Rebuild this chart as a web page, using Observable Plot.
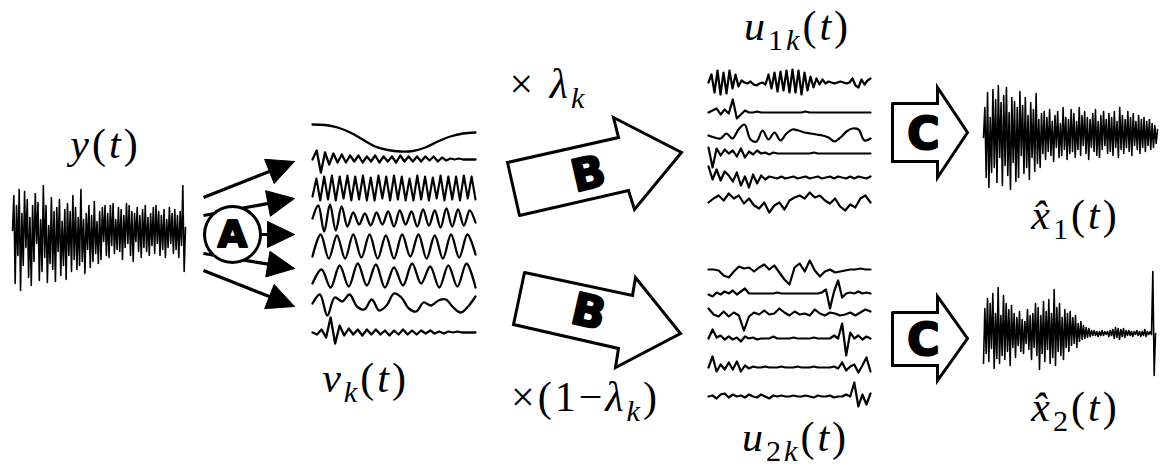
<!DOCTYPE html>
<html>
<head>
<meta charset="utf-8">
<script src="https://cdn.jsdelivr.net/npm/d3@7"></script>
<script src="https://cdn.jsdelivr.net/npm/@observablehq/plot@0.6"></script>
<style>
  html, body { margin: 0; padding: 0; background: #fff; }
  svg { display: block; }
</style>
</head>
<body>
<script>
// ---------------- DATA ----------------
// mixture y(t)
const yt = [
 5, 40, -48, 30, -20, 46, -55, 22, -30, 44, -12, 36, -42, 18, -50, 30, -26, 42, -8, 33,
 -45, 16, -36, 50, -22, 30, -47, 10, -28, 38, -34, 24, -46, 28, -16, 36, -40, 14, -30, 26,
 -44, 32, -20, 24, -36, 40, -24, 28, -34, 18, -30, 46, -26, 16, -38, 22, -14, 30, -32, 20,
 -26, 34, -18, 14, -28, 24, -24, 28, -6, 30, -20, 22, -22, 30, -10, 32, -18, 16, -14, 28,
 -16, 26, -24, 20, -12, 32, -8, 30, -20, 24, -26, 22, -6, 28, -16, 20, -22, 26, -12, 30,
 -16, 18, -20, 22, -10, 28, -18, 30, -8, 24, -20, 20, -14, 26, -22, 16, -12, 28, -8, 22,
 -18, 26, -14, 20, -22, 24, -10, 50, -36, 8
];
// modes v_k(t)
const v1 = [12, 11.5, 9, 4, -3, -10, -13.5, -15, -14.5, -11, -5, 0, 3, 4];
const v2 = [0, 9, -13, 7, -5, 6, -3, 5, -3, 4, -2, 4, -3, 3, -2, 4, -3, 3, -2, 3, -3, 4, -2, 3, -2, 3, -2, 3, -1, 3, -2, 2, -1, 1, 0, 1, 0, 0, 0, 0];
const v3 = [-8, 10, -12, 12, -11, 13, -12, 12, -10, 13, -12, 12, -11, 13, -12, 11, -12, 13, -10, 12, -12, 13, -11, 12, -12, 10, -12, 13, -11, 12, -12, 11, -10, 13, -12, 12, -11, 12, -12, 13, -10, 12, -11];
const v4 = [0, 13, -13, 14, -12, 12, -8, 6, -6, 5, -7, 6, -6, 7, -8, 8, -6, 7, -8, 9, -7, 8, -9, 10, -8, 9, -7, 8, -4];
const v5 = [-10, 12, -12, 11, -12, 12, -11, 12, -12, 11, -12, 12, -10, 12, -12, 11, -12, 12, -11, 12, -8];
const v6 = [-8, 6, -12, 10, -11, 12, -10, 11, -12, 8, -10, 12, -8, 9, -12, 10, -11, 12, -12];
const v7 = [0, 9, -12, 6, 2, 9, -3, -6, 4, -7, -2, 10, 6, -5, -8, 1, -2, 3, 4, -4, -9, -3, 7];
const v8 = [0, -2, 3, -5, 15, -11, 7, -3, 4, -2, 3, -3, 3, -2, 3, -2, 2, -3, 2, -2, 3, -2, 2, -2, 2, -1, 2, -1, 1, -1, 1, 0, 1, 0, 0, 0, 0];
// weighted modes u_1k(t)
const a1 = [0, 8, -10, 12, -12, 10, -11, 12, -6, 8, -4, 2, 0, -1, 1, -2, -3, -1, 0, -2, 8, -6, 10, -9, 11, -8, 12, -10, 13, -10, 12, -12, 10, -8, 6, -5, 4, -2, 3, -1, 1, 0, -1, 0, 1, 0, -1, 0, 4, -3, -5, 3, -2, 2, 4];
const a2 = [0, 2, 4, -2, 3, -1, 13, -6, -2, 2, 0, 0, 1, 0, 0, 0, 0, 0, 0, 0, 0, 0, 0, 0, 1, 0, 0, 0, 0, 0, 0, 0, 0, 0, 0, 0, 0, 0, 0, 0, 0];
const a3 = [0, -2, -3, 2, -3, 6, 11, -4, -6, 5, -4, 3, -5, 2, 6, 5, 3, 2, 1, 0, -2, -6, -2, 4, 7, 6, -5, -3];
const a4 = [6, -14, 5, -2, 4, 0, 3, -3, 5, -4, 2, -1, 3, 0, 1, -1, 1, 0, 0, 0, 0, 0, 0, 0, 0, 0, 1, 0, 0, 0, 0, 0, 0, 0, 0, 0, 0, 0, 0, 0, 0];
const a5 = [11, -2, 8, -3, 6, 2, -4, 5, -8, 1, -10, 3, -6, 2, -2, 1, 0, -1, 1, -1, 0, 1, -1, 0, 1, -1, 0, 1, -1, 0, 1, -1, 1, 0, -1, 1, -1, 1, 0, -1, 1];
const a6 = [-2, 2, 5, 0, 7, 2, 5, -3, 2, -5, -8, -2, -12, -5, -2, -9, 0, 3, 5, 2, 8, 3, 5, 0, -3, 2, -6, -10, -4, -7, 2, 5, -2];
// weighted modes u_2k(t)
const b1 = [0, 0, -1, -6, -8, -2, 3, 1, 2, -2, 2, 5, 0, 4, -3, -10, -15, 2, 6, -2, 9, -1, -7, -2, 0, -3, -2, -1, 0, 0, 1, 0, 0];
const b2 = [-1, -3, 1, -1, 2, 0, 3, -1, 2, 5, 0, 0, 0, 0, 0, 0, 0, 1, 0, 0, 0, 0, 0, 0, 0, 0, 0, 0, 1, 4, -15, 2, 13, -4, 0, 1, 0, 2, 0, 1, 0];
const b3 = [5, -1, -3, 2, -3, 1, -2, -17, -3, 1, -1, 3, -1, 0, 5, 1, -2, 2, -1, 0, -2, 4, 0, -2, 1, 0, -2, -1, 1, -2, 1, 4, 2];
const b4 = [0, 9, 1, 3, -1, 2, -1, 1, -3, 2, 0, 1, -1, 0, 0, 0, 2, 0, 0, 0, 0, 1, 0, 0, 0, 0, 1, 0, 0, 0, 0, 3, 0, 15, -17, 6, 0, 3, -1, 2, 0];
const b5 = [0, 11, -4, 3, -2, 5, -2, 6, -4, 2, -1, 1, 0, 0, 1, 0, 0, 0, 1, 0, 0, 0, 1, 0, 0, 0, 1, 0, 0, 0, 0, 1, -1, 5, -3, 1, 3, -5, 2, 10, -4];
const b6 = [0, 1, -2, 2, 3, -1, 2, 0, 1, -1, 2, 0, -1, 2, 0, -2, 1, 0, 1, 0, 0, 1, 0, 0, 1, 0, -1, 1, 0, 0, 1, -1, 0, 0, 2, 0, 14, -10, 2, -8, 3];
// estimated sources
const xh1 = [
 0, 30, -40, 45, -50, 20, -35, 48, -30, 38, -45, 52, -20, 35, -48, 42, -28, 50, -38, 25,
 -52, 40, -25, 36, -44, 30, -40, 46, -18, 32, -36, 40, -30, 22, -42, 35, -20, 28, -34, 44,
 -26, 18, -30, 24, -16, 26, -22, 20, -14, 28, -18, 16, -24, 22, -10, 26, -20, 14, -18, 30,
 -12, 20, -22, 18, -16, 28, -14, 24, -20, 16, -12, 30, -18, 22, -8, 26, -16, 20, -22, 18,
 -10, 24, -14, 28, -18, 16, -20, 22, -12, 26, -8, 18, -16, 24, -14, 20, -18, 26, -10, 16,
 -20, 30, -12, 22, -16, 18, -10, 26, -14, 20, -18, 24, -8, 16, -12, 22, -16, 18, -10, 20,
 -14, 16, -8, 18, -12, 14, -10, 12, -6, 8
];
const xh2 = [
 -30, 25, -20, 35, -28, 30, -15, 40, -35, 20, -25, 46, -30, 18, -22, 38, -26, 30, -18, 24,
 -32, 28, -14, 20, -24, 16, -12, 22, -18, 14, -20, 12, -10, 24, -16, 18, -26, 20, -14, 30,
 -22, 26, -36, 18, -20, 32, -28, 22, -16, 34, -30, 20, -24, 44, -32, 26, -18, 30, -22, 16,
 -26, 24, -14, 20, -18, 22, -12, 16, -10, 18, -14, 10, -8, 12, -6, 8, -5, 6, -4, 5,
 -3, 3, -2, 3, -2, 2, -3, 2, -2, 3, -2, 2, -1, 2, -3, 3, -2, 4, -5, 6,
 -4, 5, -6, 4, -3, 5, -4, 3, -2, 3, -2, 2, -3, 2, -1, 3, -2, 2, -3, 2,
 -2, 4, -3, 2, -1, 2, -1, 62, -42, 0
];
// labels
const mathLabels = ["*y*(*t*)", "*v*_{*k*}(*t*)", "× *λ*_{*k*}", "×(1−*λ*_{*k*})",
                    "*u*_{1*k*}(*t*)", "*u*_{2*k*}(*t*)", "*x\u0302*_{1}(*t*)", "*x\u0302*_{2}(*t*)"];
const stepLabels = ["A", "B", "B", "C", "C"];

// ---------------- LAYOUT (diagram placement, pixels) ----------------
const W = 1161, H = 466;
const waveLayout = [
  {v: yt,  x0: 12,  x1: 185, yc: 235, w: 1.6, curve: "linear"},
  {v: v1,  x0: 312, x1: 475, yc: 136, w: 2.3, curve: "catmull-rom"},
  {v: v2,  x0: 312, x1: 475, yc: 159, w: 2.3, curve: "linear"},
  {v: v3,  x0: 312, x1: 475, yc: 188, w: 2.1, curve: "linear"},
  {v: v4,  x0: 312, x1: 475, yc: 218, w: 2.3, curve: "catmull-rom"},
  {v: v5,  x0: 312, x1: 475, yc: 246, w: 2.3, curve: "catmull-rom"},
  {v: v6,  x0: 312, x1: 475, yc: 275, w: 2.3, curve: "catmull-rom"},
  {v: v7,  x0: 312, x1: 475, yc: 303, w: 2.3, curve: "catmull-rom"},
  {v: v8,  x0: 312, x1: 475, yc: 332, w: 2.3, curve: "linear"},
  {v: a1,  x0: 708, x1: 870, yc: 82,  w: 2.2, curve: "linear"},
  {v: a2,  x0: 708, x1: 870, yc: 112, w: 2.2, curve: "linear"},
  {v: a3,  x0: 708, x1: 870, yc: 135, w: 2.2, curve: "catmull-rom"},
  {v: a4,  x0: 708, x1: 870, yc: 153, w: 2.2, curve: "linear"},
  {v: a5,  x0: 708, x1: 870, yc: 177, w: 2.2, curve: "linear"},
  {v: a6,  x0: 708, x1: 870, yc: 200, w: 2.2, curve: "linear"},
  {v: b1,  x0: 708, x1: 870, yc: 269, w: 2.2, curve: "linear"},
  {v: b2,  x0: 708, x1: 870, yc: 293, w: 2.2, curve: "linear"},
  {v: b3,  x0: 708, x1: 870, yc: 313, w: 2.2, curve: "linear"},
  {v: b4,  x0: 708, x1: 870, yc: 338, w: 2.2, curve: "linear"},
  {v: b5,  x0: 708, x1: 870, yc: 367, w: 2.2, curve: "linear"},
  {v: b6,  x0: 708, x1: 870, yc: 396, w: 2.2, curve: "linear"},
  {v: xh1, x0: 983, x1: 1157, yc: 137, w: 1.6, curve: "linear"},
  {v: xh2, x0: 983, x1: 1155, yc: 333, w: 1.6, curve: "linear"}
];
const fanArrows = [
  {x1: 203, y1: 197, x2: 294, y2: 161},
  {x1: 203, y1: 215, x2: 294, y2: 198},
  {x1: 203, y1: 234, x2: 294, y2: 234},
  {x1: 203, y1: 253, x2: 294, y2: 268},
  {x1: 203, y1: 270, x2: 294, y2: 306}
];
const blockShapes = [
  [[519,215],[507,162],[618,137],[613,117],[681,152],[634,209],[628,190],[519,215]],
  [[524,272],[632,295],[635,277],[680,333],[615,367],[618,348],[513,324],[524,272]],
  [[892,103],[937,103],[937,87],[967,132],[937,177],[937,161],[892,161],[892,103]],
  [[892,312],[937,312],[937,296],[967,338],[937,380],[937,365],[892,365],[892,312]]
];
const stepPos = [
  {x: 232, y: 234, r: 0, s: 38},
  {x: 588, y: 174, r: -13, s: 44},
  {x: 588, y: 312, r: 13, s: 44},
  {x: 923, y: 134, r: 0, s: 44},
  {x: 923, y: 340, r: 0, s: 44}
];
const labelPos = [
  {x: 105, y: 157}, {x: 365, y: 391}, {x: 548, y: 97}, {x: 585, y: 410},
  {x: 797, y: 39}, {x: 795, y: 450}, {x: 1075, y: 228}, {x: 1075, y: 420}
];

// ---------------- BUILD ----------------
const headL = 27, headW = 13;
const heads = fanArrows.map((a, k) => {
  const dx = a.x2 - a.x1, dy = a.y2 - a.y1, L = Math.hypot(dx, dy);
  const ux = dx / L, uy = dy / L, bx = a.x2 - headL * ux, by = a.y2 - headL * uy;
  return [[a.x2, a.y2], [bx - headW * uy, by + headW * ux], [bx + headW * uy, by - headW * ux], [a.x2, a.y2]]
    .map(([x, y]) => ({k, x, y}));
}).flat();
const shafts = fanArrows.map(a => {
  const dx = a.x2 - a.x1, dy = a.y2 - a.y1, L = Math.hypot(dx, dy);
  return {x1: a.x1, y1: a.y1, x2: a.x2 - (headL - 2) * dx / L, y2: a.y2 - (headL - 2) * dy / L};
});
const blocks = blockShapes.flatMap((s, k) => s.map(([x, y]) => ({k, x, y})));
const steps = stepLabels.map((t, i) => ({t, ...stepPos[i]}));
const labels = mathLabels.map((t, i) => ({t, ...labelPos[i]}));

const waveMarks = waveLayout.map(w => Plot.line(w.v, {
  x: (d, i) => w.x0 + i * (w.x1 - w.x0) / (w.v.length - 1),
  y: d => w.yc - d,
  curve: w.curve, stroke: "black", strokeWidth: w.w, strokeLinejoin: "round"
}));

const boldFont = "'DejaVu Sans', sans-serif";
const MATH_FONT = "'Liberation Serif', 'DejaVu Serif', serif";
const MATH_FS = 42;

const svg = Plot.plot({
  width: W, height: H, margin: 0,
  x: {domain: [0, W], range: [0, W], axis: null},
  y: {domain: [0, H], range: [0, H], axis: null},
  style: {background: "white"},
  marks: [
    Plot.link(shafts, {x1: "x1", y1: "y1", x2: "x2", y2: "y2", stroke: "black", strokeWidth: 3.2}),
    Plot.line(heads, {x: "x", y: "y", z: "k", fill: "black", stroke: "black", strokeWidth: 1, strokeLinejoin: "miter"}),
    Plot.dot([stepPos[0]], {x: "x", y: "y", r: 28, fill: "white", stroke: "black", strokeWidth: 3}),
    ...waveMarks,
    Plot.line(blocks, {x: "x", y: "y", z: "k", fill: "white", stroke: "black", strokeWidth: 3,
      strokeLinejoin: "miter", strokeMiterlimit: 10}),
    ...steps.map(s => Plot.text([s], {x: "x", y: "y", text: "t", rotate: s.r, fontSize: s.s,
      fontWeight: 900, fontFamily: boldFont, fill: "black", stroke: "black", strokeWidth: 2.2,
      textAnchor: "middle", lineAnchor: "middle"})),
    Plot.text(labels, {x: "x", y: "y", text: "t", fontSize: MATH_FS, fontFamily: MATH_FONT,
      fill: "black", textAnchor: "middle", lineAnchor: "bottom"})
  ]
});

// turn the mini-markup (*italic*, _{subscript}) into tspans
function mathify(el, fs) {
  const src = el.textContent;
  while (el.firstChild) el.removeChild(el.firstChild);
  const segs = []; let italic = false, sub = false, buf = "";
  const flush = () => { if (buf) { segs.push({t: buf, italic, sub}); buf = ""; } };
  for (let i = 0; i < src.length; i++) {
    const c = src[i];
    if (c === "*") { flush(); italic = !italic; }
    else if (c === "_" && src[i + 1] === "{") { flush(); sub = true; i++; }
    else if (c === "}" && sub) { flush(); sub = false; }
    else buf += c;
  }
  flush();
  let prevSub = false;
  const shift = 0.26 * fs;
  for (const s of segs) {
    const ts = document.createElementNS("http://www.w3.org/2000/svg", "tspan");
    ts.textContent = s.t;
    ts.style.fontFamily = MATH_FONT;
    ts.style.fontStyle = s.italic ? "italic" : "normal";
    ts.style.fontSize = (s.sub ? 0.72 * fs : fs) + "px";
    if (s.sub !== prevSub) ts.setAttribute("dy", s.sub ? shift : -shift);
    prevSub = s.sub;
    el.appendChild(ts);
  }
  el.style.fontFamily = MATH_FONT;
  el.style.letterSpacing = "3px";
}
svg.querySelectorAll("text").forEach(t => {
  if (t.textContent.includes("*")) mathify(t, MATH_FS);
});

document.body.appendChild(svg);
</script>
</body>
</html>
